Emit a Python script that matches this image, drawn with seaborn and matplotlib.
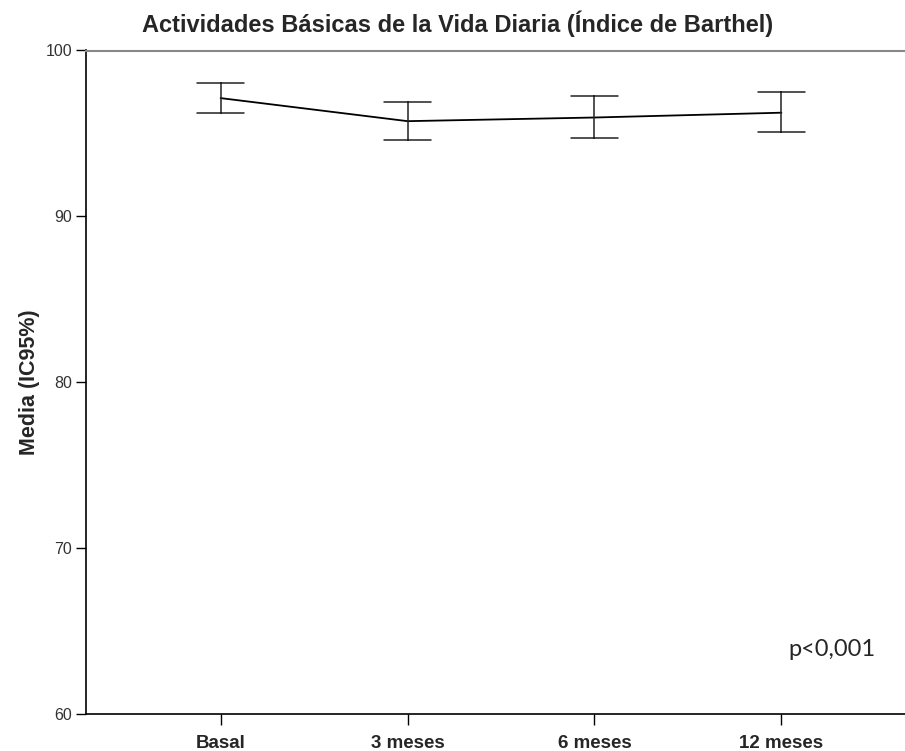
import matplotlib
matplotlib.use("Agg")
import matplotlib.pyplot as plt
import seaborn as sns
import pandas as pd
import numpy as np

categories = ["Basal", "3 meses", "6 meses", "12 meses"]
means = [97.13, 95.74, 95.96, 96.25]
ci_low = [96.22, 94.58, 94.72, 95.06]
ci_high = [98.05, 96.89, 97.23, 97.47]
y_ticks = [60, 70, 80, 90, 100]

rows = []
for c, lo, m, hi in zip(categories, ci_low, means, ci_high):
    for v in (lo, m, hi):
        rows.append({"tiempo": c, "valor": v})
df = pd.DataFrame(rows)

sns.set_theme(style="white")
plt.rcParams["font.family"] = ["Liberation Sans", "DejaVu Sans"]

fig = plt.figure(figsize=(9.05, 7.51), dpi=100)
left = 86 / 905
right = 916 / 905
bottom = 1 - 714 / 751
top = 1 - 50.5 / 751
ax = fig.add_axes([left, bottom, right - left, top - bottom])

sns.pointplot(
    data=df, x="tiempo", y="valor", order=categories,
    estimator="median", errorbar=lambda v: (v.min(), v.max()),
    capsize=0.25, color="black", markersize=0, linewidth=1.3,
    err_kws={"linewidth": 1.1, "color": "#222222"},
    ax=ax,
)

ax.set_xlim(-0.72, 3.72)
ax.set_ylim(60, 100)
ax.set_yticks(y_ticks)
ax.set_yticklabels([str(t) for t in y_ticks], fontsize=11.5, color="#333333")
ax.set_xticks(range(len(categories)))
ax.set_xticklabels(categories, fontsize=13.5, fontweight="bold")
ax.tick_params(axis="both", which="both", direction="out", length=7, width=1,
               color="black", bottom=True, left=True, pad=3)
ax.tick_params(axis="x", length=8, pad=7)
ax.set_xlabel("")
ax.set_ylabel("Media (IC95%)", fontsize=15.5, fontweight="bold", labelpad=4)

for s in ["left", "bottom"]:
    ax.spines[s].set_color("black")
    ax.spines[s].set_linewidth(1.2)
ax.spines["top"].set_color("#888888")
ax.spines["top"].set_linewidth(1.5)
ax.spines["right"].set_visible(False)

fig.text(458 / 905, 1 - 24 / 751, "Actividades Básicas de la Vida Diaria (Índice de Barthel)",
         ha="center", va="center", fontsize=17, fontweight="bold")
ax.text(3.27, 63.9, "p<0,001", ha="center", va="center", fontsize=17,
        family=["Lato", "DejaVu Sans"])

fig.savefig("out.png", dpi=100)
